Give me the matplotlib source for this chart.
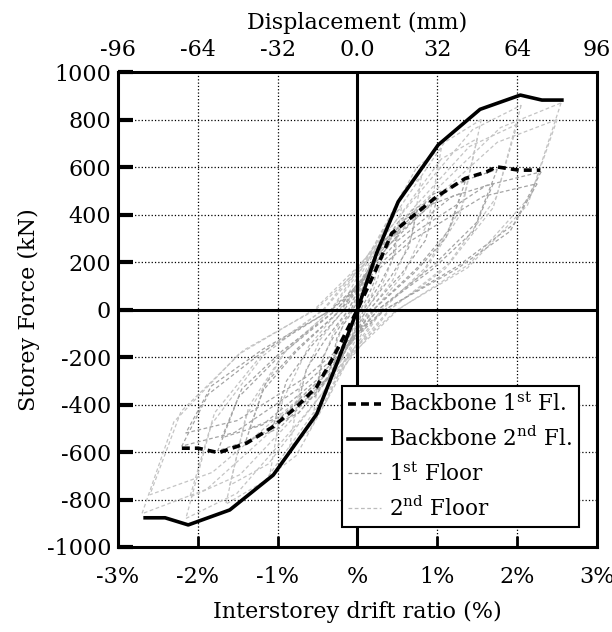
import matplotlib
matplotlib.use("Agg")
import matplotlib.pyplot as plt

plt.rcParams['font.family'] = 'DejaVu Serif'
plt.rcParams['mathtext.fontset'] = 'dejavuserif'
plt.rcParams['axes.unicode_minus'] = False

# backbone curves (drift %, force kN)
bb1_x = [-2.20, -1.995, -1.74, -1.39, -1.055, -0.76, -0.51, -0.30, 0.0, 0.22, 0.43, 0.99, 1.35, 1.62, 1.74, 2.02, 2.29]
bb1_y = [-584, -584, -603, -563, -493, -409, -325, -199, 0, 160, 321, 475, 552, 580, 601, 587, 587]
bb2_x = [-2.66, -2.41, -2.12, -1.60, -1.055, -0.51, -0.25, 0.0, 0.24, 0.51, 1.01, 1.535, 2.04, 2.31, 2.56]
bb2_y = [-877, -877, -907, -844, -697, -440, -220, 0, 238, 454, 693, 843, 903, 882, 882]

# hysteresis loops, 1st floor
floor1_loops = [
    [(0.25, 190), (0.21, 118), (0.14, 61), (0.04, 0), (-0.09, -107), (-0.21, -176), (-0.3, -195), (-0.26, -121), (-0.17, -62), (-0.05, 0), (0.08, 105), (0.18, 171), (0.25, 190)],
    [(0.5, 330), (0.43, 205), (0.28, 106), (0.08, 0), (-0.15, -176), (-0.35, -288), (-0.5, -320), (-0.43, -198), (-0.28, -102), (-0.08, 0), (0.15, 182), (0.35, 297), (0.5, 330)],
    [(0.75, 420), (0.64, 260), (0.41, 134), (0.11, 0), (-0.23, -223), (-0.53, -365), (-0.75, -405), (-0.64, -251), (-0.41, -130), (-0.11, 0), (0.23, 231), (0.53, 378), (0.75, 420)],
    [(1.0, 470), (0.85, 291), (0.55, 150), (0.15, 0), (-0.32, -267), (-0.74, -437), (-1.05, -485), (-0.89, -301), (-0.58, -155), (-0.16, 0), (0.30, 259), (0.70, 423), (1.0, 470)],
    [(1.3, 490), (1.11, 304), (0.72, 157), (0.20, 0), (-0.41, -275), (-0.95, -450), (-1.35, -500), (-1.15, -310), (-0.74, -160), (-0.20, 0), (0.39, 270), (0.91, 441), (1.3, 490)],
    [(1.35, 540), (1.15, 335), (0.74, 173), (0.20, 0), (-0.42, -305), (-0.98, -500), (-1.4, -555), (-1.19, -344), (-0.77, -178), (-0.21, 0), (0.41, 297), (0.95, 486), (1.35, 540)],
    [(1.7, 530), (1.45, 329), (0.94, 170), (0.26, 0), (-0.51, -297), (-1.19, -486), (-1.7, -540), (-1.45, -335), (-0.94, -173), (-0.26, 0), (0.51, 292), (1.19, 477), (1.7, 530)],
    [(1.75, 590), (1.49, 366), (0.96, 189), (0.26, 0), (-0.53, -327), (-1.23, -536), (-1.75, -595), (-1.49, -369), (-0.96, -190), (-0.26, 0), (0.53, 325), (1.23, 531), (1.75, 590)],
    [(2.25, 530), (1.91, 329), (1.24, 170), (0.34, 0), (-0.65, -286), (-1.51, -468), (-2.15, -520), (-1.83, -322), (-1.18, -166), (-0.32, 0), (0.68, 292), (1.58, 477), (2.25, 530)],
    [(2.3, 580), (1.96, 360), (1.27, 186), (0.35, 0), (-0.66, -316), (-1.54, -518), (-2.2, -575), (-1.87, -357), (-1.21, -184), (-0.33, 0), (0.69, 319), (1.61, 522), (2.3, 580)],
]

# hysteresis loops, 2nd floor
floor2_loops = [
    [(0.3, 250), (0.26, 138), (0.17, 55), (0.06, 0), (-0.09, -125), (-0.21, -220), (-0.3, -250), (-0.26, -138), (-0.17, -55), (-0.06, 0), (0.09, 125), (0.21, 220), (0.3, 250)],
    [(0.55, 430), (0.47, 237), (0.30, 95), (0.11, 0), (-0.17, -220), (-0.39, -387), (-0.55, -440), (-0.47, -242), (-0.30, -97), (-0.11, 0), (0.17, 215), (0.39, 378), (0.55, 430)],
    [(0.8, 560), (0.68, 308), (0.44, 123), (0.16, 0), (-0.26, -290), (-0.60, -510), (-0.85, -580), (-0.72, -319), (-0.47, -128), (-0.17, 0), (0.24, 280), (0.56, 493), (0.8, 560)],
    [(1.05, 680), (0.89, 374), (0.58, 150), (0.21, 0), (-0.33, -350), (-0.77, -616), (-1.1, -700), (-0.94, -385), (-0.61, -154), (-0.22, 0), (0.32, 340), (0.74, 598), (1.05, 680)],
    [(1.5, 720), (1.28, 396), (0.83, 158), (0.30, 0), (-0.48, -370), (-1.12, -651), (-1.6, -740), (-1.36, -407), (-0.88, -163), (-0.32, 0), (0.45, 360), (1.05, 634), (1.5, 720)],
    [(1.55, 800), (1.32, 440), (0.85, 176), (0.31, 0), (-0.50, -410), (-1.16, -722), (-1.65, -820), (-1.40, -451), (-0.91, -180), (-0.33, 0), (0.47, 400), (1.09, 704), (1.55, 800)],
    [(2.0, 780), (1.70, 429), (1.10, 172), (0.40, 0), (-0.63, -395), (-1.47, -695), (-2.1, -790), (-1.79, -435), (-1.16, -174), (-0.42, 0), (0.60, 390), (1.40, 686), (2.0, 780)],
    [(2.05, 860), (1.74, 473), (1.13, 189), (0.41, 0), (-0.65, -440), (-1.51, -774), (-2.15, -880), (-1.83, -484), (-1.18, -194), (-0.43, 0), (0.62, 430), (1.44, 757), (2.05, 860)],
    [(2.5, 800), (2.13, 440), (1.38, 176), (0.50, 0), (-0.78, -390), (-1.82, -686), (-2.6, -780), (-2.21, -429), (-1.43, -172), (-0.52, 0), (0.75, 400), (1.75, 704), (2.5, 800)],
    [(2.55, 870), (2.17, 479), (1.40, 191), (0.51, 0), (-0.81, -430), (-1.89, -757), (-2.7, -860), (-2.30, -473), (-1.49, -189), (-0.54, 0), (0.77, 435), (1.79, 766), (2.55, 870)],
]

x_ticks = [-3, -2, -1, 0, 1, 2, 3]
x_labels = ['-3%', '-2%', '-1%', '%', '1%', '2%', '3%']
y_ticks = [-1000, -800, -600, -400, -200, 0, 200, 400, 600, 800, 1000]
top_ticks = [-96, -64, -32, 0, 32, 64, 96]
top_labels = ['-96', '-64', '-32', '0.0', '32', '64', '96']
mm_per_pct = 32.0

fs = 16
fig = plt.figure(figsize=(6.12, 6.32), dpi=100)
ax = fig.add_axes([0.1928, 0.1345, 0.7827, 0.7515])

for loop in floor2_loops:
    ax.plot([p[0] for p in loop], [p[1] for p in loop], color='#c4c4c4', lw=0.9,
            linestyle=(0, (3, 2)), zorder=2)
for loop in floor1_loops:
    ax.plot([p[0] for p in loop], [p[1] for p in loop], color='#a4a4a4', lw=0.9,
            linestyle=(0, (3, 2)), zorder=2)

l1, = ax.plot(bb1_x, bb1_y, color='black', lw=2.6, linestyle=(0, (2.2, 1.4)), zorder=4)
l2, = ax.plot(bb2_x, bb2_y, color='black', lw=2.6, zorder=4)

ax.axhline(0, color='black', lw=2.2, zorder=3)
ax.axvline(0, color='black', lw=2.2, zorder=3)

ax.set_xlim(-3, 3)
ax.set_ylim(-1000, 1000)
ax.set_xticks(x_ticks)
ax.set_xticklabels(x_labels)
ax.set_yticks(y_ticks)
ax.grid(True, color='black', linestyle=':', lw=0.9)
ax.tick_params(axis='x', direction='in', length=8, width=2, labelsize=fs, pad=14)
ax.tick_params(axis='y', direction='in', length=11, width=3, labelsize=fs, pad=5)
for s in ax.spines.values():
    s.set_linewidth(2.2)

ax.set_xlabel('Interstorey drift ratio (%)', fontsize=fs, labelpad=9)
ax.set_ylabel('Storey Force (kN)', fontsize=fs, labelpad=5)

top = ax.secondary_xaxis('top', functions=(lambda x: x * mm_per_pct, lambda x: x / mm_per_pct))
top.set_xticks(top_ticks)
top.set_xticklabels(top_labels)
top.tick_params(length=0, labelsize=fs, pad=8)
top.set_xlabel('Displacement (mm)', fontsize=fs, labelpad=7)

# legend proxies for the gray loops
g1, = ax.plot([], [], color='#909090', lw=0.9, linestyle=(0, (3, 2)))
g2, = ax.plot([], [], color='#bcbcbc', lw=0.9, linestyle=(0, (3, 2)))
leg = ax.legend([l1, l2, g1, g2],
                ['Backbone 1$^{\\rm st}$ Fl.', 'Backbone 2$^{\\rm nd}$ Fl.', '1$^{\\rm st}$ Floor', '2$^{\\rm nd}$ Floor'],
                loc='lower right', bbox_to_anchor=(0.962, 0.042), borderaxespad=0,
                fontsize=15.5, fancybox=False, framealpha=1, edgecolor='black',
                handlelength=1.5, handletextpad=0.4, labelspacing=0.5, borderpad=0.3)
leg.get_frame().set_linewidth(1.5)
leg.set_zorder(10)

fig.savefig('out.png', dpi=100)
